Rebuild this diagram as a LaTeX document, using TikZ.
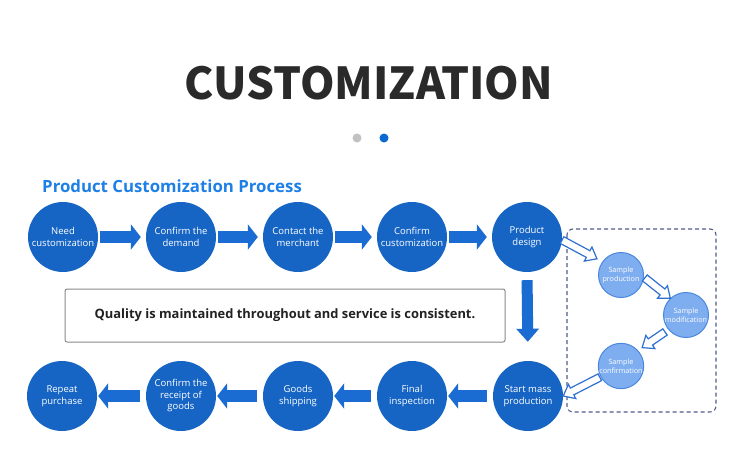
\documentclass[tikz,border=0pt]{standalone}
\usepackage{fontspec}
\setmainfont{Open Sans}
\newfontfamily\titlefont{Noto Sans CJK SC}
\usetikzlibrary{arrows.meta,calc}
\definecolor{cblue}{HTML}{1665C4}
\definecolor{ablue}{HTML}{1A6BD2}
\definecolor{titledark}{HTML}{2A2A2A}
\definecolor{dotgray}{HTML}{C2C2C2}
\definecolor{dotblue}{HTML}{0A68CF}
\definecolor{subblue}{HTML}{1E80E6}
\definecolor{lblue}{HTML}{7FAEF0}
\definecolor{lbord}{HTML}{4A88DE}
\definecolor{dashc}{HTML}{505C8C}
\definecolor{hblue}{HTML}{2F6FD0}
\definecolor{boxgray}{HTML}{8A8A8A}
\definecolor{textdark}{HTML}{222222}
\newcommand\hollowarr[2]{%
  \coordinate (hh) at ($(#2)!10pt!(#1)$);
  \filldraw[harrowst] ($(#1)!3.8pt!90:(#2)$) -- ($(hh)!3.8pt!-90:(#1)$) -- ($(hh)!8pt!-90:(#1)$) -- (#2) -- ($(hh)!8pt!90:(#1)$) -- ($(hh)!3.8pt!90:(#1)$) -- ($(#1)!3.8pt!-90:(#2)$) -- cycle;}
\begin{document}
\begin{tikzpicture}[x=1pt,y=-1pt,
  bigc/.style={circle, fill=cblue, minimum size=70pt, inner sep=0pt, text=white,
    font=\fontsize{9.5}{11.5}\selectfont, align=center},
  smallc/.style={circle, fill=lblue, draw=lbord, line width=1pt, minimum size=45pt, inner sep=0pt,
    text=white, font=\fontsize{7.2}{8.7}\selectfont, align=center},
  barrow/.style={line width=12pt, draw=ablue, -{Triangle[width=25pt,length=10pt]}},
  harrowst/.style={fill=white, draw=hblue, line width=1.2pt, line join=miter},
  dotst/.style={circle, minimum size=9pt, inner sep=0pt}]
\useasboundingbox (0,0) rectangle (750,469);
\fill[white] (0,0) rectangle (750,469);

% title
\node[text=titledark, inner sep=0pt] (title) at (369,83) {\titlefont\bfseries\fontsize{44}{44}\selectfont CUSTOMIZATION};
\node[dotst, fill=dotgray] (d1) at (357,138) {};
\node[dotst, fill=dotblue] (d2) at (384,138) {};

% subtitle
\node[anchor=base west, inner sep=0pt, text=subblue, font=\bfseries\fontsize{16.8}{20}\selectfont] (sub) at (42,192) {Product Customization Process};

% top row
\node[bigc] (n1) at (63,237) {Need\\customization};
\node[bigc] (n2) at (181,237) {Confirm the\\demand};
\node[bigc] (n3) at (298,237) {Contact the\\merchant};
\node[bigc] (n4) at (412,237) {Confirm\\customization};
\node[bigc] (n5) at (527,237) {Product\\design};

% bottom row
\node[bigc] (b5) at (528,396) {Start mass\\production};
\node[bigc] (b4) at (412,396) {Final\\inspection};
\node[bigc] (b3) at (298,396) {Goods\\shipping};
\node[bigc] (b2) at (181,396) {Confirm the\\receipt of\\goods};
\node[bigc] (b1) at (62,396) {Repeat\\purchase};

% top arrows
\foreach \a/\b in {n1/n2,n2/n3,n3/n4,n4/n5}
  \draw[barrow, shorten <=2pt, shorten >=5pt] (\a.east) -- (\b.west);
% bottom arrows
\foreach \a/\b in {b5/b4,b4/b3,b3/b2,b2/b1}
  \draw[barrow, shorten <=6pt, shorten >=1pt] (\a.west) -- (\b.east);
% vertical arrow
\draw[line width=11pt, draw=ablue, -{Triangle[width=22pt,length=13pt]}, shorten <=8pt, shorten >=19pt] (n5.south) -- (b5.north);

% quality box
\node[draw=boxgray, line width=1pt, rounded corners=2pt, minimum width=440pt, minimum height=53pt,
  text=textdark, font=\bfseries\fontsize{12.9}{14}\selectfont] (qbox) at (285,315.5)
  {Quality is maintained throughout and service is consistent.};

% dashed group
\draw[draw=dashc, line width=1.1pt, dash pattern=on 4pt off 3pt, rounded corners=6pt] (567,229) rectangle (716,412);

% sample circles
\node[smallc] (sp) at (621,275) {Sample\\production};
\node[smallc] (sm) at (686,315) {Sample\\modification};
\node[smallc] (sc) at (621,366) {Sample\\confirmation};

% hollow arrows
\coordinate (h1s) at (n5.-5);
\coordinate (h1e) at ($(sp.center)!29pt!(sp.146)$);
\coordinate (h2s) at ($(sp.center)!24pt!(sp.-7)$);
\coordinate (h2e) at ($(sm.center)!23pt!(sm.133)$);
\coordinate (h3s) at ($(sm.center)!27pt!(sm.-141)$);
\coordinate (h3e) at ($(sc.center)!28pt!(sc.41)$);
\coordinate (h4s) at ($(sc.center)!24pt!(sc.-152)$);
\coordinate (h4e) at (b5.east);
\hollowarr{h1s}{h1e}
\hollowarr{h2s}{h2e}
\hollowarr{h3s}{h3e}
\hollowarr{h4s}{h4e}
\end{tikzpicture}
\end{document}
